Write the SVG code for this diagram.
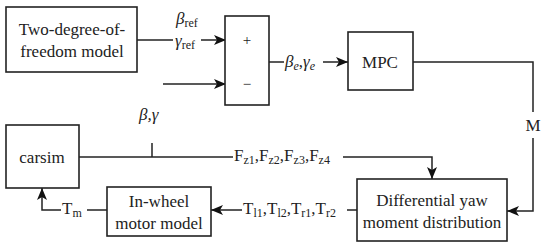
<svg xmlns="http://www.w3.org/2000/svg" width="550" height="249" viewBox="0 0 550 249">
<style>
.box{fill:#fff;stroke:#222;stroke-width:1.6}
.ln{fill:none;stroke:#222;stroke-width:1.5}
.c{text-anchor:middle}
.g{font-style:italic}
.s{font-size:12px}
</style>
<defs>
<marker id="ah" viewBox="0 0 12 10" refX="12" refY="5" markerWidth="12" markerHeight="10" markerUnits="userSpaceOnUse" orient="auto">
<path d="M0,0 L12,5 L0,10 L3,5 Z" fill="#111"/>
</marker>
</defs>
<rect width="550" height="249" fill="#fff"/>
<g id="connectors">
<path class="ln" d="M137,40 H173"/>
<path class="ln" d="M201,40 H226" marker-end="url(#ah)"/>
<path class="ln" d="M163,84 H226" marker-end="url(#ah)"/>
<path class="ln" d="M269,62 H284"/>
<path class="ln" d="M323,62 H348" marker-end="url(#ah)"/>
<path class="ln" d="M413,62 H533 V112"/>
<path class="ln" d="M533,138 V211 H507" marker-end="url(#ah)"/>
<path class="ln" d="M79,157 H233"/>
<path class="ln" d="M152,157 V143"/>
<path class="ln" d="M343,157 H432 V179" marker-end="url(#ah)"/>
<path class="ln" d="M357,210 H347"/>
<path class="ln" d="M242,210 H211" marker-end="url(#ah)"/>
<path class="ln" d="M107,210 H87"/>
<path class="ln" d="M61,210 H42 V188" marker-end="url(#ah)"/>
</g>
<g id="two-dof">
<rect class="box" x="6" y="7" width="131" height="65"/>
<text font-family="Liberation Serif" font-size="17" fill="#222" class="c" x="72" y="35">Two-degree-of-</text>
<text font-family="Liberation Serif" font-size="17" fill="#222" class="c" x="72" y="57">freedom model</text>
</g>
<g id="sum">
<rect class="box" x="225" y="16" width="44" height="89"/>
<text font-family="Liberation Serif" font-size="15" fill="#222" class="c" x="247" y="45">+</text>
<text font-family="Liberation Serif" font-size="15" fill="#222" class="c" x="247" y="89">−</text>
</g>
<g id="mpc">
<rect class="box" x="348" y="32" width="65" height="58"/>
<text font-family="Liberation Serif" font-size="17" fill="#222" class="c" x="380" y="68">MPC</text>
</g>
<g id="carsim">
<rect class="box" x="6" y="125" width="73" height="63"/>
<text font-family="Liberation Serif" font-size="17" fill="#222" class="c" x="42" y="163">carsim</text>
</g>
<g id="motor">
<rect class="box" x="107" y="187" width="104" height="49"/>
<text font-family="Liberation Serif" font-size="17" fill="#222" class="c" x="159" y="207">In-wheel</text>
<text font-family="Liberation Serif" font-size="17" fill="#222" class="c" x="159" y="229">motor model</text>
</g>
<g id="diff">
<rect class="box" x="357" y="179" width="150" height="62"/>
<text font-family="Liberation Serif" font-size="17" fill="#222" class="c" x="432" y="206">Differential yaw</text>
<text font-family="Liberation Serif" font-size="17" fill="#222" class="c" x="432" y="228">moment distribution</text>
</g>
<g id="labels">
<text font-family="Liberation Serif" font-size="17" fill="#222" x="176" y="24"><tspan class="g">β</tspan><tspan class="s" dy="3">ref</tspan></text>
<text font-family="Liberation Serif" font-size="17" fill="#222" x="175" y="46"><tspan class="g">γ</tspan><tspan class="s" dy="3">ref</tspan></text>
<text font-family="Liberation Serif" font-size="17" fill="#222" x="285" y="67"><tspan class="g">β</tspan><tspan class="s g" dy="3">e</tspan><tspan dy="-3">,</tspan><tspan class="g">γ</tspan><tspan class="s g" dy="3">e</tspan></text>
<text font-family="Liberation Serif" font-size="17" fill="#222" class="c" x="533" y="131">M</text>
<text font-family="Liberation Serif" font-size="17" fill="#222" class="g" x="139" y="120">β,γ</text>
<text font-family="Liberation Serif" font-size="17" fill="#222" x="234" y="161">F<tspan class="s" dy="3">z1</tspan><tspan dy="-3">,F</tspan><tspan class="s" dy="3">z2</tspan><tspan dy="-3">,F</tspan><tspan class="s" dy="3">z3</tspan><tspan dy="-3">,F</tspan><tspan class="s" dy="3">z4</tspan></text>
<text font-family="Liberation Serif" font-size="17" fill="#222" x="243" y="214">T<tspan class="s" dy="3">l1</tspan><tspan dy="-3">,T</tspan><tspan class="s" dy="3">l2</tspan><tspan dy="-3">,T</tspan><tspan class="s" dy="3">r1</tspan><tspan dy="-3">,T</tspan><tspan class="s" dy="3">r2</tspan></text>
<text font-family="Liberation Serif" font-size="17" fill="#222" x="62" y="214">T<tspan class="s" dy="3">m</tspan></text>
</g>
</svg>
